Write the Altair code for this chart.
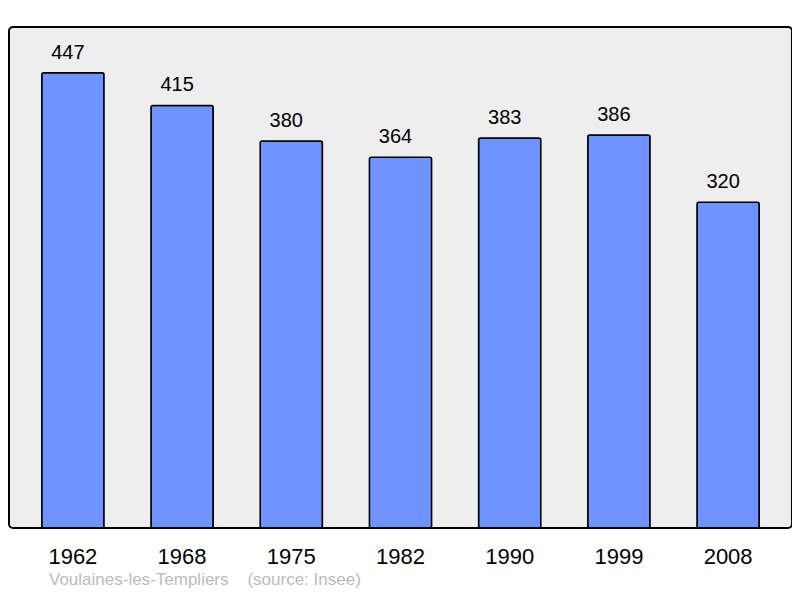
import altair as alt
import pandas as pd

years = ["1962", "1968", "1975", "1982", "1990", "1999", "2008"]
population = [447, 415, 380, 364, 383, 386, 320]

df = pd.DataFrame({"year": years, "pop": population})

base = alt.Chart(df).encode(
    x=alt.X("year:N", sort=years,
            scale=alt.Scale(paddingInner=0.43, paddingOuter=0.3),
            axis=alt.Axis(title=None, labelAngle=0, labelFontSize=22, labelColor="#000000",
                          labelFont="Liberation Sans", labelPadding=18,
                          domain=False, ticks=False))
)

bars = base.mark_bar(color="#7094ff", stroke="#000000", strokeWidth=1.5, cornerRadius=2).encode(
    y=alt.Y("pop:Q", scale=alt.Scale(domain=[0, 492], nice=False),
            axis=None)
)

labels = base.mark_text(baseline="alphabetic", dy=-14, dx=-5, fontSize=20, font="Liberation Sans",
                        color="#000000").encode(
    y=alt.Y("pop:Q"),
    text="pop:Q"
)

chart = (bars + labels).properties(
    width=783, height=501,
    padding={"left": 1, "top": 19, "right": 0, "bottom": 62},
    autosize=alt.AutoSizeParams(type="none"),
    title=alt.TitleParams("Voulaines-les-Templiers\u00a0\u00a0\u00a0\u00a0(source: Insee)", orient="bottom",
                          anchor="start", dx=40, offset=5, fontSize=17, fontWeight="normal",
                          font="Liberation Sans", color="#bbbbbb"),
    background="#ffffff"
).configure_view(
    fill="#eeeeee", stroke="#000000", strokeWidth=2, cornerRadius=4
)

chart.save("out.html", embed_options={"renderer": "svg", "actions": False})
